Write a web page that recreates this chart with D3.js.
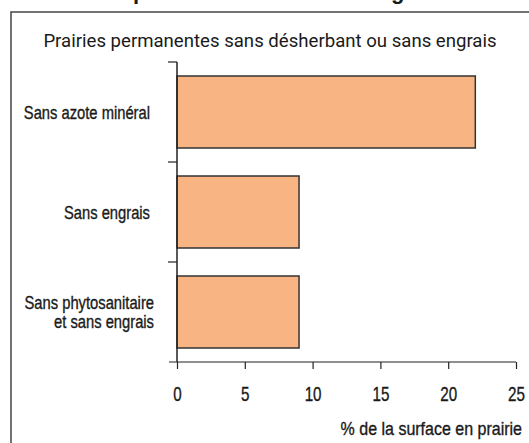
<!DOCTYPE html>
<html lang="fr">
<head>
<meta charset="UTF-8">
<title>Prairies</title>
<script src="https://d3js.org/d3.v7.min.js"></script>
<style>
  body { margin: 0; background: #fff; overflow: hidden; }
  svg { display: block; }
  text { fill: #1a1a1a; }
  .narrow { font-family: "Liberation Sans", Arial, sans-serif; stroke: #1a1a1a; stroke-width: 0.35px; }
</style>
</head>
<body>
<script>
var categories = ["Sans azote minéral", "Sans engrais", "Sans phytosanitaire|et sans engrais"]
var values = [22, 9, 9]
var xTicks = [0, 5, 10, 15, 20, 25]
var title = "Des prairies souvent sans engrais"
var subtitle = "Prairies permanentes sans désherbant ou sans engrais"
var xLabel = "% de la surface en prairie"

var W = 529, H = 443
var barColor = "#f8b483"
var ink = "#222"

const svg = d3.select("body").append("svg")
    .attr("width", W).attr("height", H)

// frame, cut by the picture edges
svg.append("rect")
    .attr("x", 11).attr("y", 12)
    .attr("width", 600).attr("height", 600)
    .attr("fill", "none").attr("stroke", "#444").attr("stroke-width", 1.5)

// title, only its descenders show
var t = svg.append("text")
    .attr("x", 90).attr("y", -1)
    .attr("font-family", "Liberation Sans, Arial, sans-serif")
    .attr("font-weight", "bold").attr("font-size", 22)
    .text(title)
var pIdx = title.indexOf("p")
var px = t.node().getStartPositionOfChar(pIdx).x
t.attr("x", 90 + (133 - px))

svg.append("text")
    .attr("x", 270).attr("y", 47)
    .attr("text-anchor", "middle")
    .attr("font-family", "Roboto, sans-serif")
    .attr("font-size", 18.6)
    .attr("fill", "#222")
    .text(subtitle)

var x = d3.scaleLinear().domain([0, 25]).range([177, 516])
var y = d3.scaleBand().domain(categories).range([62, 362])
    .paddingInner(0.28).paddingOuter(0.14)

// bars
svg.selectAll(".bar").data(values).enter().append("rect")
    .attr("class", "bar")
    .attr("x", x(0))
    .attr("y", (d, i) => y(categories[i]))
    .attr("width", d => x(d) - x(0))
    .attr("height", y.bandwidth())
    .attr("fill", barColor)
    .attr("stroke", "#333").attr("stroke-width", 1.5)

// x axis
var xAxis = svg.append("g")
    .attr("transform", "translate(0,362)")
    .call(d3.axisBottom(x).tickValues(xTicks).tickSize(7).tickPadding(0))
xAxis.select(".domain").remove()
xAxis.selectAll("line").attr("stroke", ink).attr("stroke-width", 1.2)
xAxis.selectAll("text")
    .attr("class", "narrow")
    .attr("font-size", 20)
    .attr("y", 39).attr("dy", null)
    .attr("transform", "scale(0.76,1)")
    .attr("fill", "#1a1a1a")
svg.append("line")
    .attr("x1", 169).attr("x2", x(25))
    .attr("y1", 362).attr("y2", 362)
    .attr("stroke", ink).attr("stroke-width", 1.2)

// y axis line and ticks between categories
svg.append("line")
    .attr("x1", x(0)).attr("x2", x(0))
    .attr("y1", y.range()[0]).attr("y2", y.range()[1])
    .attr("stroke", ink).attr("stroke-width", 1.5)
var gap = (y.step() - y.bandwidth()) / 2
svg.selectAll(".ytick").data(categories).enter().append("line")
    .attr("x1", 168).attr("x2", x(0))
    .attr("y1", d => y(d) - gap).attr("y2", d => y(d) - gap)
    .attr("stroke", ink).attr("stroke-width", 1.2)

// category labels
categories.forEach(function (c) {
    var lines = c.split("|")
    var cy = y(c) + y.bandwidth() / 2
    var lab = svg.append("text")
        .attr("class", "narrow")
        .attr("text-anchor", "end")
        .attr("font-size", 18)
        .attr("transform", "translate(" + (lines.length > 1 ? 154 : 150) + "," + cy + ") scale(0.82,1)")
    lines.forEach(function (l, i) {
        lab.append("tspan")
            .attr("x", 0)
            .attr("y", 6.5 + (i - (lines.length - 1) / 2) * 19)
            .text(l)
    })
})

svg.append("text")
    .attr("class", "narrow")
    .attr("x", 0).attr("y", 0)
    .attr("text-anchor", "end")
    .attr("font-size", 18)
    .attr("transform", "translate(522,435) scale(0.89,1)")
    .text(xLabel)
</script>
</body>
</html>
